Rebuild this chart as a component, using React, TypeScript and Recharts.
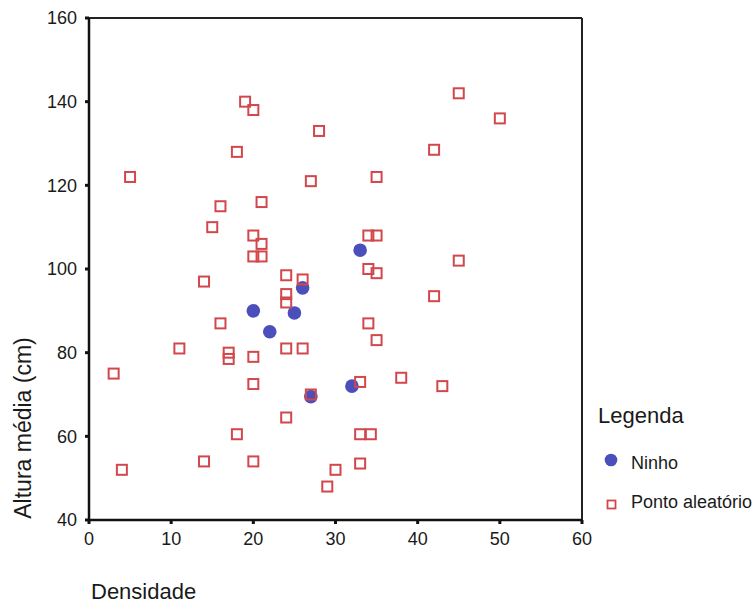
import React from 'react';
import {
    ScatterChart, Scatter, XAxis, YAxis, ReferenceLine, Legend, Label
} from 'recharts';

// --- Data ---
const ninhoDensidade = [20, 22, 25, 26, 27, 32, 33];
const ninhoAltura = [90, 85, 89.5, 95.5, 69.5, 72, 104.5];

const pontoDensidade = [
    5, 19, 20, 18, 28, 27, 16, 21, 15, 20,
    21, 20, 21, 45, 50, 42, 35, 34, 35, 34,
    35, 45, 42, 14, 24, 26, 24, 24, 16, 11,
    17, 17, 20, 24, 26, 3, 20, 27, 24, 18,
    14, 20, 4, 30, 29, 34, 35, 33, 38, 43,
    33, 34.3, 33,
];
const pontoAltura = [
    122, 140, 138, 128, 133, 121, 115, 116, 110, 108,
    106, 103, 103, 142, 136, 128.5, 122, 108, 108, 100,
    99, 102, 93.5, 97, 98.5, 97.5, 94, 92, 87, 81,
    80, 78.5, 79, 81, 81, 75, 72.5, 70, 64.5, 60.5,
    54, 54, 52, 52, 48, 87, 83, 73, 74, 72,
    60.5, 60.5, 53.5,
];

const xTicks = [0, 10, 20, 30, 40, 50, 60];
const yTicks = [40, 60, 80, 100, 120, 140, 160];

const ninhoData = ninhoDensidade.map((x, i) => ({ x, y: ninhoAltura[i] }));
const pontoData = pontoDensidade.map((x, i) => ({ x, y: pontoAltura[i] }));

const FONT = '"Liberation Sans", Arial, sans-serif';
const TEXT = '#1a1a1a';
const BLUE = '#4b4fbb';
const RED = '#d2474c';

const CircleDot = (props: any) => {
    const { cx, cy } = props;
    return <circle cx={cx} cy={cy} r={6.8} fill={BLUE} />;
};

const SquareDot = (props: any) => {
    const { cx, cy } = props;
    return <rect x={cx - 5} y={cy - 5} width={10} height={10} fill="none" stroke={RED} strokeWidth={2} />;
};

const LegendBox = () => (
    <svg width={164} height={130} style={{ fontFamily: FONT }}>
        <text x={8} y={28} fontSize={22} fill={TEXT}>Legenda</text>
        <circle cx={21} cy={65} r={6.3} fill={BLUE} />
        <text x={41} y={74} fontSize={18} fill={TEXT}>Ninho</text>
        <rect x={17.5} y={105.5} width={8} height={8} fill="none" stroke={RED} strokeWidth={1.8} />
        <text x={41} y={113} fontSize={18} fill={TEXT}>Ponto aleatório</text>
    </svg>
);

export default function App() {
    return (
        <div style={{ position: 'absolute', left: 0, top: 0, width: 754, height: 606, background: '#fff' }}>
            <ScatterChart width={754} height={606} margin={{ top: 18, right: 172, bottom: 56, left: 29 }}>
                <XAxis
                    type="number"
                    dataKey="x"
                    domain={[0, 60]}
                    ticks={xTicks}
                    allowDataOverflow
                    height={30}
                    stroke="#111"
                    axisLine={{ stroke: '#111', strokeWidth: 2.5 }}
                    tickLine={{ stroke: '#111', strokeWidth: 3 }}
                    tickSize={4}
                    tickMargin={8}
                    tick={{ fill: TEXT, fontSize: 18, fontFamily: FONT }}
                >
                    <Label
                        content={() => (
                            <text x={91} y={599} fontSize={22} fill={TEXT} fontFamily={FONT}>Densidade</text>
                        )}
                    />
                </XAxis>
                <YAxis
                    type="number"
                    dataKey="y"
                    domain={[40, 160]}
                    ticks={yTicks}
                    allowDataOverflow
                    width={60}
                    stroke="#111"
                    axisLine={{ stroke: '#111', strokeWidth: 2.5 }}
                    tickLine={{ stroke: '#111', strokeWidth: 3 }}
                    tickSize={4}
                    tickMargin={8}
                    tick={{ fill: TEXT, fontSize: 18, fontFamily: FONT }}
                >
                    <Label
                        content={() => (
                            <text
                                x={23}
                                y={428}
                                transform="rotate(-90 23 428)"
                                textAnchor="middle"
                                dominantBaseline="central"
                                fontSize={23}
                                fill={TEXT}
                                fontFamily={FONT}
                            >
                                Altura média (cm)
                            </text>
                        )}
                    />
                </YAxis>
                <ReferenceLine y={160} stroke="#222" strokeWidth={2} />
                <ReferenceLine x={60} stroke="#222" strokeWidth={2} />
                <Scatter name="Ninho" data={ninhoData} shape={<CircleDot />} isAnimationActive={false} />
                <Scatter name="Ponto aleatório" data={pontoData} shape={<SquareDot />} isAnimationActive={false} />
                <Legend
                    layout="vertical"
                    align="center"
                    verticalAlign="middle"
                    content={() => <LegendBox />}
                    wrapperStyle={{ left: 590, top: 395, width: 164, height: 130 }}
                />
            </ScatterChart>
        </div>
    );
}
